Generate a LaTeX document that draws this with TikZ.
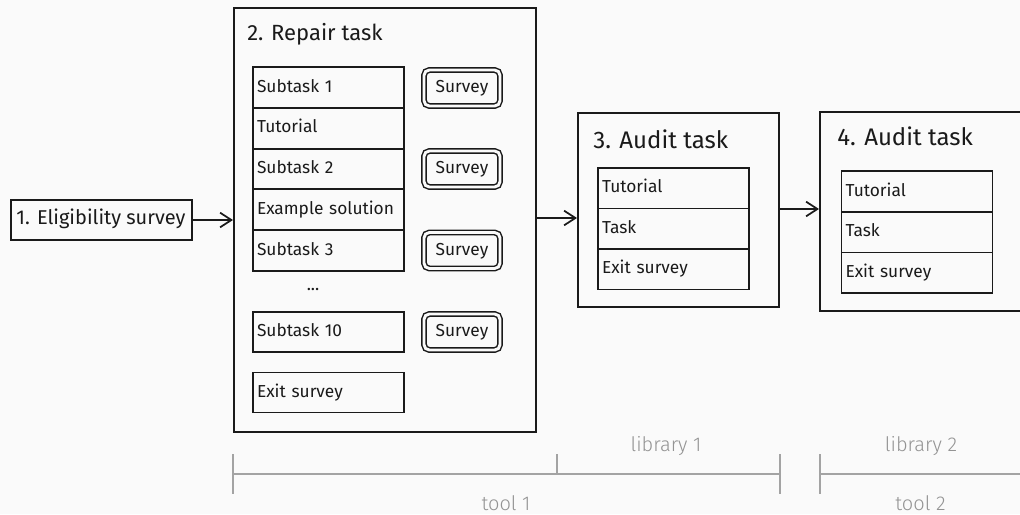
\documentclass[tikz,border=0pt]{standalone}
\usepackage{fontspec}
\setmainfont{Fira Sans}
\newfontfamily\lightfont{Fira Sans Light}
\usetikzlibrary{arrows.meta}
\definecolor{bg}{HTML}{FAFAFA}
\definecolor{ink}{HTML}{1A1A1A}
\definecolor{rule}{HTML}{A3A3A3}
\definecolor{ruletext}{HTML}{939393}
\begin{document}
\begin{tikzpicture}[x=0.75pt,y=-0.75pt,
  sz/.style 2 args={minimum width=#1*0.75pt, minimum height=#2*0.75pt},
  frame/.style={draw=ink, line width=1.5pt, inner sep=0pt},
  stage/.style={frame, font=\fontsize{15}{18}\selectfont, text=ink,
    text height=0.69em, text depth=0pt},
  title/.style={anchor=base west, inner sep=0pt, text=ink},
  row/.style={draw=ink, line width=1.4pt, inner xsep=3pt, inner ysep=0pt,
    text width=107.25pt, align=left, sz={151}{#1},
    font=\fontsize{13}{15}\selectfont, text=ink,
    text height=0.69em, text depth=0pt},
  row/.default=40.8,
  survey/.style={draw=ink, line width=1.1pt, double=bg, double distance=2.2pt,
    rounded corners=4pt, sz={76}{36}, inner sep=0pt,
    font=\fontsize{13}{15}\selectfont, text=ink,
    text height=0.69em, text depth=0pt},
  arr/.style={draw=ink, line width=1.3pt,
    -{Straight Barb[length=8.5pt,width=11pt,line width=1.3pt]}},
  scaleline/.style={draw=rule, line width=1.5pt},
  scalelabel/.style={anchor=base, inner sep=0pt, text=ruletext,
    font=\lightfont\fontsize{15}{18}\selectfont},
]
\fill[bg] (0,0) rectangle (1020,514);
\useasboundingbox (0,0) rectangle (1020,514);
\clip (0,0) rectangle (1020,514);

% stage 1
\node[stage, sz={181}{40}] (elig) at (101,220) {1. Eligibility survey};

% stage 2: repair task
\node[frame, sz={302}{424}] (repair) at (385,220) {};
\node[title, font=\fontsize{16.5}{20}\selectfont] (repairtitle) at (247,40) {2. Repair task};
\node[row] (sub1) at (328.5,87.4) {Subtask 1};
\node[row] (tut) at (328.5,128.2) {Tutorial};
\node[row] (sub2) at (328.5,169.0) {Subtask 2};
\node[row] (example) at (328.5,209.8) {Example solution};
\node[row] (sub3) at (328.5,250.6) {Subtask 3};
\node[anchor=base, inner sep=0pt, text=ink, font=\fontsize{13}{15}\selectfont] (dots) at (313,290) {...};
\node[row=40] (sub10) at (328.5,332) {Subtask 10};
\node[row=40] (exit2) at (328.5,392.5) {Exit survey};
\node[survey] (sv1) at (462,88) {Survey};
\node[survey] (sv2) at (462,169) {Survey};
\node[survey] (sv3) at (462,250.5) {Survey};
\node[survey] (sv4) at (462,332) {Survey};

% stage 3: first audit task
\node[frame, sz={201}{194}] (audit3) at (678.5,210) {};
\node[title, font=\fontsize{18}{22}\selectfont] (audit3title) at (593,148) {3. Audit task};
\node[row=40.5] (tut3) at (673.5,188.25) {Tutorial};
\node[row=40.5] (task3) at (673.5,228.75) {Task};
\node[row=40.5] (exit3) at (673.5,269.25) {Exit survey};

% stage 4: second audit task
\node[frame, sz={220}{199}] (audit4) at (930,211.5) {};
\node[title, font=\fontsize{18}{22}\selectfont] (audit4title) at (837,145) {4. Audit task};
\node[row=40.7] (tut4) at (917,191.5) {Tutorial};
\node[row=40.7] (task4) at (917,232.2) {Task};
\node[row=40.7] (exit4) at (917,272.9) {Exit survey};

% flow between stages
\coordinate (flow2) at (0,218);
\coordinate (flow3) at (0,209);
\draw[arr] (elig.east) -- (repair.west);
\draw[arr] (repair.east |- flow2) -- (audit3.west |- flow2);
\draw[arr] (audit3.east |- flow3) -- (audit4.west |- flow3);

% scale of tools and libraries
\draw[scaleline] (233,454) -- (233,494);
\draw[scaleline] (233,474) -- (780,474);
\draw[scaleline] (557,454) -- (557,474);
\draw[scaleline] (780,454) -- (780,494);
\draw[scaleline] (820,454) -- (820,494);
\draw[scaleline] (820,474) -- (1030,474);
\node[scalelabel] (lib1) at (666,451) {library 1};
\node[scalelabel] (tool1) at (506,510) {tool 1};
\node[scalelabel] (lib2) at (921,451) {library 2};
\node[scalelabel] (tool2) at (920.5,510) {tool 2};
\end{tikzpicture}
\end{document}
